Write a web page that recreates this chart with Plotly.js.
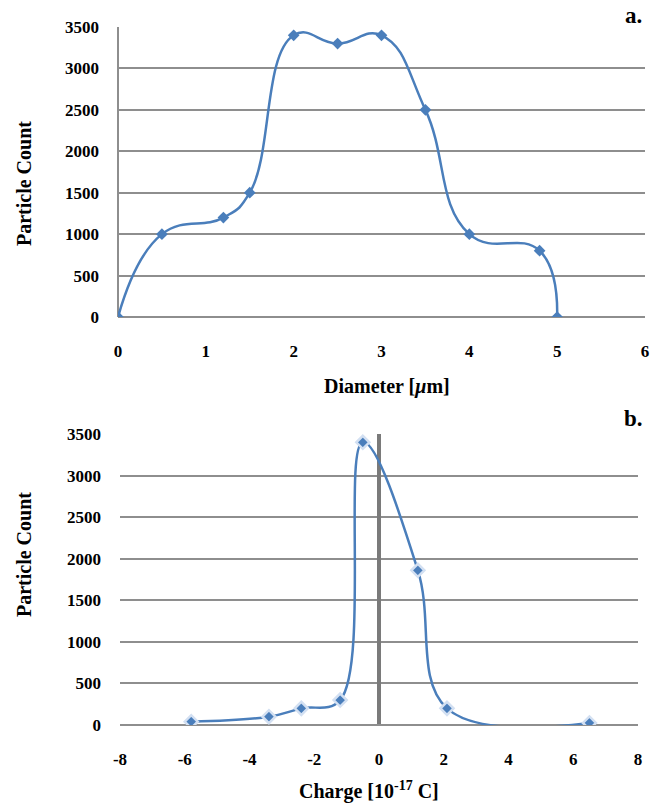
<!DOCTYPE html>
<html><head><meta charset="utf-8">
<script src="https://cdn.plot.ly/plotly-3.0.1.min.js"></script>
<style>html,body{margin:0;padding:0;background:#fff}#c{width:665px;height:806px}</style>
</head><body><div id="c"></div>
<script>
const diameter = [0, 0.5, 1.2, 1.5, 2, 2.5, 3, 3.5, 4, 4.8, 5];
const diameterCount = [0, 1000, 1200, 1500, 3400, 3300, 3400, 2500, 1000, 800, 0];
const charge = [-5.8, -3.4, -2.4, -1.2, -0.5, 1.2, 2.1, 6.5];
const chargeCount = [40, 100, 200, 300, 3400, 1860, 200, 25];
const yTicks = [0, 500, 1000, 1500, 2000, 2500, 3000, 3500];
const xTicksA = [0, 1, 2, 3, 4, 5, 6];
const xTicksB = [-8, -6, -4, -2, 0, 2, 4, 6, 8];

const W = 665, H = 806;
const fx = p => p / W, fy = p => 1 - p / H;
const blue = '#4a7ebb';
const fam = 'Liberation Serif, Times New Roman, serif';
const font = {family: fam, size: 17, color: '#000', weight: 'bold'};
const tfont = {family: fam, size: 20, color: '#000'};
const grid = '#8e8e8e';
const bold = v => '<b>' + v + '</b>';

const traces = [
  {x: diameter, y: diameterCount, xaxis: 'x', yaxis: 'y', mode: 'lines+markers',
   line: {shape: 'spline', smoothing: 1.3, color: blue, width: 2.5},
   marker: {symbol: 'diamond', size: 9, color: blue}},
  {x: charge, y: chargeCount, xaxis: 'x2', yaxis: 'y2', mode: 'lines+markers',
   line: {shape: 'spline', smoothing: 1.1, color: blue, width: 2.5},
   marker: {symbol: 'diamond', size: 10, color: blue, line: {color: '#d3e0f2', width: 2.5}}}
];

const yax = (dom, anchor) => ({domain: dom, anchor: anchor, range: [0, 3500], tickvals: yTicks,
  ticktext: yTicks.map(bold), showgrid: true, gridcolor: grid, gridwidth: 2, zeroline: true,
  zerolinecolor: grid, zerolinewidth: 2, showline: false, ticks: '', tickfont: font,
  ticklabelstandoff: 18, fixedrange: true});

const ann = (text, x, y, extra) => Object.assign({text: text, xref: 'paper', yref: 'paper',
  x: fx(x), y: fy(y), xanchor: 'center', yanchor: 'middle', showarrow: false, font: tfont}, extra || {});

const layout = {
  width: W, height: H, margin: {l: 0, r: 0, t: 0, b: 0}, showlegend: false,
  paper_bgcolor: '#fff', plot_bgcolor: '#fff',
  xaxis: {domain: [fx(118), fx(645)], anchor: 'y', range: [0, 6], tickvals: xTicksA,
    ticktext: xTicksA.map(bold), showgrid: false, zeroline: true, zerolinecolor: grid,
    zerolinewidth: 2, showline: false, ticks: '', tickfont: font, ticklabelstandoff: 22},
  yaxis: yax([fy(317), fy(27)], 'x'),
  xaxis2: {domain: [fx(120), fx(638)], anchor: 'y2', range: [-8, 8], tickvals: xTicksB,
    ticktext: xTicksB.map(bold), showgrid: false, zeroline: true, zerolinecolor: '#7a7a7a',
    zerolinewidth: 3.5, showline: false, ticks: '', tickfont: font, ticklabelstandoff: 22},
  yaxis2: yax([fy(725), fy(434)], 'x2'),
  annotations: [
    ann('<b>Particle Count</b>', 24, 184, {textangle: -90}),
    ann('<b>Diameter [<i>μ</i>m]</b>', 387, 386),
    ann('<b>a.</b>', 633, 15, {font: {family: fam, size: 23, color: '#000'}}),
    ann('<b>Particle Count</b>', 24, 555, {textangle: -90}),
    ann('<b>Charge [10<sup>-17</sup> C]</b>', 369, 790),
    ann('<b>b.</b>', 633, 418, {font: {family: fam, size: 23, color: '#000'}})
  ]
};
Plotly.newPlot('c', traces, layout, {displayModeBar: false, staticPlot: true});
</script></body></html>
